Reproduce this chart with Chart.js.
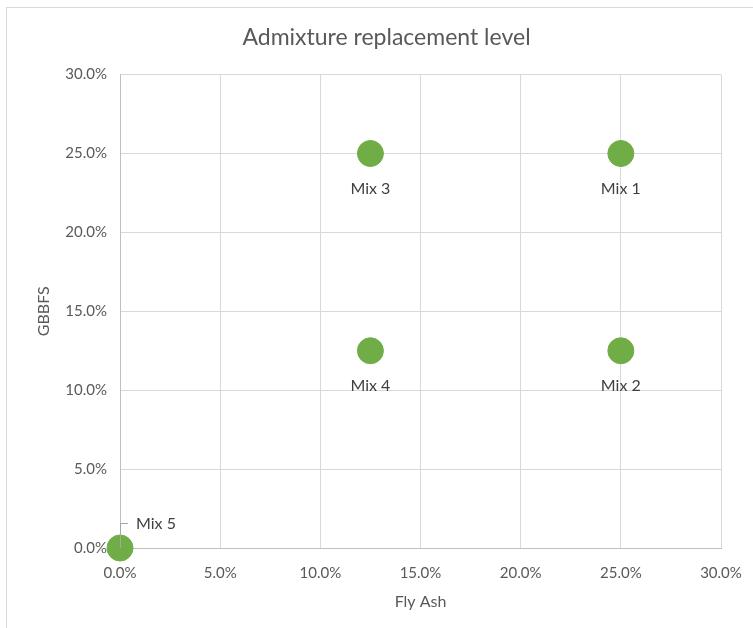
<!DOCTYPE html>
<html>
<head>
<meta charset="utf-8">
<script src="https://cdn.jsdelivr.net/npm/chart.js@4"></script>
<style>
  html, body { margin: 0; padding: 0; background: #fff; }
  #wrap { width: 753px; height: 628px; }
</style>
</head>
<body>
<div id="wrap"><canvas id="myChart" width="753" height="628"></canvas></div>
<script>
// values (in %)
const mixLabels = ['Mix 1', 'Mix 2', 'Mix 3', 'Mix 4', 'Mix 5']
const flyAsh = [25, 25, 12.5, 12.5, 0]
const gbbfs = [25, 12.5, 25, 12.5, 0]
const axisTicks = [0, 5, 10, 15, 20, 25, 30]

const green = '#70ad47'
const fontName = 'Lato, "Open Sans", sans-serif'

function handleOnLoad(){
  const points = flyAsh.map(function (x, i) {
    return { x: x, y: gbbfs[i] }
  })

  // outer chart frame, like the spreadsheet chart border
  const framePlugin = {
    id: 'frame',
    beforeDraw(chart) {
      const ctx = chart.ctx
      ctx.save()
      ctx.strokeStyle = '#d9d9d9'
      ctx.lineWidth = 1
      ctx.strokeRect(6.5, 7.5, 900, 800)
      ctx.restore()
    }
  }

  // labels under each point, Mix 5 gets a leader line
  const labelPlugin = {
    id: 'mixLabels',
    afterDatasetsDraw(chart) {
      const ctx = chart.ctx
      const xs = chart.scales.x
      const ys = chart.scales.y
      ctx.save()
      ctx.font = '16px ' + fontName
      ctx.fillStyle = '#404040'
      ctx.textBaseline = 'middle'
      mixLabels.forEach(function (lbl, i) {
        const px = xs.getPixelForValue(flyAsh[i])
        const py = ys.getPixelForValue(gbbfs[i])
        if (lbl === 'Mix 5') {
          ctx.strokeStyle = '#a6a6a6'
          ctx.lineWidth = 1
          ctx.beginPath()
          ctx.moveTo(px + 0.5, py)
          ctx.lineTo(px + 0.5, py - 24.5)
          ctx.lineTo(px + 8, py - 24.5)
          ctx.stroke()
          ctx.textAlign = 'left'
          ctx.fillText(lbl, px + 16, py - 24)
        } else {
          ctx.textAlign = 'center'
          ctx.fillText(lbl, px, py + 35)
        }
      })
      ctx.restore()
    }
  }

  const ctx = document.getElementById('myChart').getContext('2d')
  const myChart = new Chart(ctx, {
    type: 'scatter',
    data: {
      datasets: [{
        label: 'Admixture',
        data: points,
        backgroundColor: green,
        borderColor: green,
        pointRadius: 13,
        pointHoverRadius: 13,
        clip: false
      }]
    },
    options: {
      responsive: false,
      animation: false,
      layout: {
        padding: { left: 20, top: 0, right: 0, bottom: 0 }
      },
      plugins: {
        legend: { display: false },
        tooltip: { enabled: false },
        title: {
          display: true,
          text: 'Admixture replacement level',
          color: '#595959',
          font: { family: fontName, size: 23, weight: 'normal' },
          padding: { top: 24, bottom: 23 }
        }
      },
      scales: {
        x: {
          type: 'linear',
          min: 0,
          max: 30,
          afterBuildTicks: function (axis) {
            axis.ticks = axisTicks.map(v => ({ value: v }))
          },
          afterFit: function (axis) {
            axis.height = 80
            axis.paddingLeft = 0
            axis.paddingRight = 32
          },
          grid: { color: '#d9d9d9', drawTicks: false },
          border: { color: '#bfbfbf' },
          ticks: {
            color: '#595959',
            padding: 16,
            maxRotation: 0,
            font: { family: fontName, size: 15 },
            callback: v => v.toFixed(1) + '%'
          },
          title: {
            display: true,
            text: 'Fly Ash',
            color: '#595959',
            font: { family: fontName, size: 16 },
            padding: { top: 4, bottom: 17 }
          }
        },
        y: {
          type: 'linear',
          min: 0,
          max: 30,
          afterBuildTicks: function (axis) {
            axis.ticks = axisTicks.map(v => ({ value: v }))
          },
          afterFit: function (axis) { axis.width = 100 },
          grid: { color: '#d9d9d9', drawTicks: false },
          border: { color: '#bfbfbf' },
          ticks: {
            color: '#595959',
            padding: 13,
            font: { family: fontName, size: 15 },
            callback: v => v.toFixed(1) + '%'
          },
          title: {
            display: true,
            text: 'GBBFS',
            color: '#595959',
            font: { family: fontName, size: 16 },
            padding: { top: 14, bottom: 0 }
          }
        }
      }
    },
    plugins: [framePlugin, labelPlugin]
  })
}

handleOnLoad()
</script>
</body>
</html>
